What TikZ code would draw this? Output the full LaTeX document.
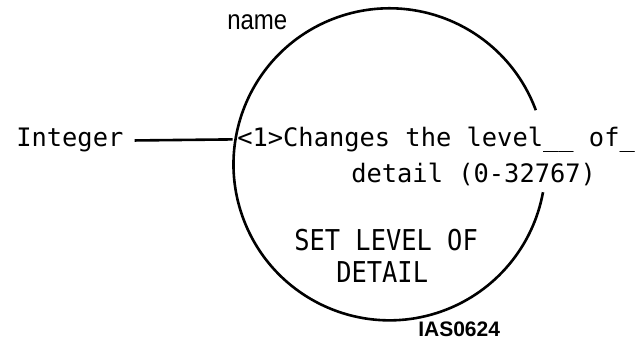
\documentclass[tikz,border=0pt]{standalone}
\usepackage{fontspec}
\setmainfont{Liberation Sans}
\setmonofont{DejaVu Sans Mono}

\begin{document}
\begin{tikzpicture}[x=1pt,y=1pt,line width=2.6pt,
    mono node/.style={font=\ttfamily\fontsize{25.4}{30}\selectfont,inner sep=0pt,anchor=base west},
    title node/.style={mono node,yscale=1.13,transform shape},
    label node/.style={font=\fontsize{24}{28}\selectfont,inner sep=0pt,anchor=base west}]
    \useasboundingbox (0,0) rectangle (635,340);

    % process bubble, open where the text runs over it
    \node[circle,minimum size=312pt,inner sep=0pt] (proc) at (388,176) {};
    \draw (proc.20.3) arc[start angle=20.3,end angle=349.7,radius=156];

    \node[label node,yscale=1.15,transform shape] (name) at (226,310) {name};
    \node[mono node] (int) at (15,193) {Integer};
    \node[mono node] (desc1) at (236,193) {<1>Changes the level\_\_ of\_};
    \node[mono node] (desc2) at (350,157) {detail (0-32767)};
    \node[title node] (title1) at (293,89) {SET LEVEL OF};
    \node[title node] (title2) at (335,57) {DETAIL};
    \node[label node,font=\bfseries\fontsize{21}{24}\selectfont] (fig) at (417,3) {IAS0624};

    \draw ([xshift=10pt]int.east) -- (proc.171.5);
\end{tikzpicture}
\end{document}
